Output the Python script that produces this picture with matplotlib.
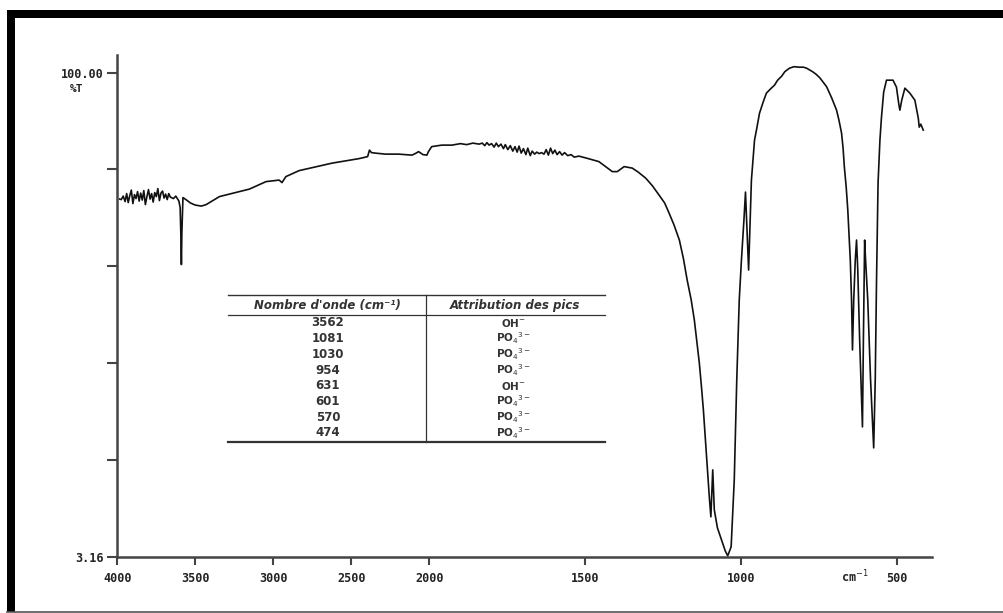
import numpy as np
import matplotlib
matplotlib.use('Agg')
import matplotlib.pyplot as plt
from matplotlib.lines import Line2D
from matplotlib.patches import Rectangle
from matplotlib.ticker import NullLocator

# Spectre IR : nombre d'onde (cm-1) et transmittance (%T)
wavenumber = [
    3985, 3975, 3962, 3950, 3940, 3930, 3920, 3910, 3900, 3890, 3880, 3870,
    3860, 3850, 3840, 3830, 3820, 3810, 3800, 3790, 3780, 3770, 3760, 3750,
    3740, 3730, 3720, 3710, 3700, 3690, 3680, 3670, 3660, 3640, 3625, 3605,
    3597, 3592, 3589, 3586, 3579, 3560, 3530, 3500, 3461, 3430, 3345, 3217,
    3153, 3046, 2962, 2944, 2919, 2834, 2622, 2450, 2408, 2395, 2383, 2370,
    2345, 2281, 2196, 2150, 2111, 2090, 2068, 2040, 2015, 2005, 1992, 1960,
    1927, 1900, 1880, 1860, 1840, 1830, 1822, 1815, 1808, 1800, 1792, 1785,
    1778, 1770, 1762, 1756, 1748, 1740, 1732, 1725, 1718, 1712, 1705, 1698,
    1690, 1684, 1676, 1670, 1662, 1655, 1648, 1640, 1632, 1625, 1618, 1611,
    1604, 1597, 1590, 1582, 1574, 1566, 1556, 1545, 1535, 1520, 1490, 1456,
    1430, 1413, 1397, 1375, 1349, 1330, 1306, 1285, 1263, 1245, 1231, 1215,
    1198, 1185, 1173, 1160, 1150, 1142, 1134, 1127, 1121, 1113, 1102, 1097,
    1091, 1086, 1076, 1063, 1051, 1043, 1038, 1032, 1028, 1022, 1018, 1014,
    1010, 1006, 999, 991, 986, 981, 976, 972, 967, 957, 950, 941,
    930, 919, 905, 893, 883, 870, 860, 845, 830, 813, 800, 790,
    771, 760, 748, 726, 710, 694, 686, 678, 673, 669, 663, 658,
    650, 646, 643, 639, 634, 630, 626, 620, 611, 608, 605, 604,
    601, 594, 585, 575, 570, 566, 561, 555, 550, 543, 534, 513,
    502, 494, 491, 485, 475, 459, 443, 432, 429, 424, 416,
]
transmittance = [
    74.7, 74.6, 75.3, 74.2, 75.8, 74.0, 75.4, 76.5, 73.8, 75.6, 74.8, 76.2,
    74.3, 75.9, 74.5, 76.4, 73.6, 75.2, 76.6, 74.7, 75.8, 74.1, 76.0, 75.2,
    76.8, 74.4, 75.9, 76.3, 74.9, 75.7, 74.6, 75.8, 75.1, 74.8, 75.3, 74.3,
    73.0, 67.0, 61.6, 68.0, 75.0, 74.6, 73.9, 73.5, 73.3, 73.6, 75.2, 76.2,
    76.7, 78.2, 78.5, 78.0, 79.2, 80.4, 81.9, 82.8, 83.1, 83.2, 84.5, 84.0,
    83.9, 83.7, 83.7, 83.6, 83.5, 83.8, 84.2, 83.6, 83.5, 84.2, 85.2, 85.5,
    85.5, 85.8, 85.6, 85.9, 85.7, 85.9, 85.4, 86.0, 85.5, 85.8, 85.1, 85.9,
    85.2, 85.7, 84.8, 85.6, 84.6, 85.4, 84.3, 85.2, 84.1, 85.3, 83.9, 84.8,
    83.6, 84.9, 83.4, 84.3, 83.7, 84.1, 83.8, 84.0, 83.7, 84.6, 83.5, 84.9,
    83.8, 84.5, 83.6, 84.2, 83.5, 84.0, 83.4, 83.6, 83.1, 83.3, 82.8, 82.2,
    81.0, 80.2, 80.2, 81.2, 80.9, 80.1, 78.9, 77.4, 75.5, 73.9, 71.9, 69.5,
    66.5, 62.8, 58.5, 54.5, 50.5, 46.2, 41.9, 37.0, 32.5, 25.1, 15.1, 11.1,
    20.5, 12.5, 8.9, 6.5, 4.3, 3.3, 4.1, 5.1, 10.5, 18.5, 28.5, 38.5,
    46.5, 54.5, 62.5, 70.5, 76.1, 68.5, 60.5, 68.5, 78.5, 86.5, 88.8, 91.9,
    94.0, 95.9, 96.8, 97.5, 98.5, 99.3, 100.2, 100.9, 101.2, 101.1, 101.1, 100.9,
    100.2, 99.7, 99.0, 97.2, 95.0, 92.5, 90.4, 87.9, 84.8, 81.1, 77.0, 72.5,
    62.5, 54.5, 44.5, 54.5, 62.5, 66.5, 60.5, 46.5, 29.1, 46.5, 60.5, 66.5,
    62.5, 54.5, 38.5, 24.9, 38.5, 57.9, 77.9, 86.5, 91.1, 96.1, 98.5, 98.5,
    97.1, 93.5, 92.5, 94.5, 96.9, 95.9, 94.5, 90.9, 89.1, 89.7, 88.5,
]

x_ticks = [4000, 3500, 3000, 2500, 2000, 1500, 1000, 500]
y_ticks = [3.16, 22.53, 41.90, 61.26, 80.63, 100.00]
y_ticklabels = ['3.16', '', '', '', '', '100.00']

# Tableau des attributions
table_wn = ['3562', '1081', '1030', '954', '631', '601', '570', '474']
table_attr = ['OH$^{-}$', 'PO$_4$$^{3-}$', 'PO$_4$$^{3-}$', 'PO$_4$$^{3-}$',
              'OH$^{-}$', 'PO$_4$$^{3-}$', 'PO$_4$$^{3-}$', 'PO$_4$$^{3-}$']

W, H = 1004, 613


def fx(px):
    return px / W


def fy(py):
    return 1 - py / H


# échelle x dilatée x2 en dessous de 2000 cm-1
def fwd(w):
    w = np.asarray(w, dtype=float)
    return np.where(w >= 2000, w, 2 * w - 2000)


def inv(v):
    v = np.asarray(v, dtype=float)
    return np.where(v >= 2000, v, (v + 2000) / 2)


fig = plt.figure(figsize=(W / 100, H / 100), dpi=100)
fig.patch.set_facecolor('white')

ax = fig.add_axes([fx(117.3), fy(556.5), fx(931.7) - fx(117.3), fy(55) - fy(556.5)])
ax.set_xscale('function', functions=(fwd, inv))
ax.plot(wavenumber, transmittance, color='#111111', lw=1.2)
ax.set_xlim(4000, 389)
ax.set_ylim(3.16, 103.54)

for side in ['top', 'right']:
    ax.spines[side].set_visible(False)
for side in ['left', 'bottom']:
    ax.spines[side].set_color('#444444')
    ax.spines[side].set_linewidth(1.8)

ax.set_xticks(x_ticks)
ax.set_xticklabels([str(t) for t in x_ticks])
ax.xaxis.set_minor_locator(NullLocator())
ax.set_yticks(y_ticks)
ax.set_yticklabels(y_ticklabels)
ax.yaxis.set_minor_locator(NullLocator())
ax.tick_params(axis='x', direction='out', length=6, width=1.5, color='#444444',
               pad=5, labelsize=8.5, labelcolor='#222222')
ax.tick_params(axis='y', direction='out', length=7, width=1.5, color='#444444',
               pad=3, labelsize=8.5, labelcolor='#222222')
for lbl in ax.get_xticklabels() + ax.get_yticklabels():
    lbl.set_fontfamily('DejaVu Sans Mono')
    lbl.set_fontweight('bold')

fig.text(fx(77), fy(89), '%T', ha='center', va='center', fontsize=8,
         family='DejaVu Sans Mono', weight='bold', color='#222222')
fig.text(fx(855), fy(577), 'cm$^{-1}$', ha='center', va='center', fontsize=8.5,
         family='DejaVu Sans Mono', weight='bold', color='#222222')

# tableau
tcol = '#333333'
fig.add_artist(Line2D([fx(228), fx(605)], [fy(295), fy(295)], transform=fig.transFigure,
                      color=tcol, lw=1.0))
fig.add_artist(Line2D([fx(228), fx(605)], [fy(315), fy(315)], transform=fig.transFigure,
                      color=tcol, lw=0.9))
fig.add_artist(Line2D([fx(228), fx(605)], [fy(441.5), fy(441.5)], transform=fig.transFigure,
                      color=tcol, lw=1.6))
fig.add_artist(Line2D([fx(425.7), fx(425.7)], [fy(295), fy(441.5)], transform=fig.transFigure,
                      color=tcol, lw=0.9))

fig.text(fx(327), fy(306), "Nombre d'onde (cm⁻¹)", ha='center', va='center', fontsize=8.5,
         family='DejaVu Sans', weight='bold', style='italic', color=tcol)
fig.text(fx(515), fy(306), 'Attribution des pics', ha='center', va='center', fontsize=8.5,
         family='DejaVu Sans', weight='bold', style='italic', color=tcol)

for i, (wn, attr) in enumerate(zip(table_wn, table_attr)):
    y = 323 + i * 15.7
    fig.text(fx(328), fy(y), wn, ha='center', va='center', fontsize=8.5,
             family='DejaVu Sans', weight='bold', color=tcol)
    fig.text(fx(513), fy(y), attr, ha='center', va='center', fontsize=7.5,
             family='DejaVu Sans', weight='bold', color=tcol)

# cadre noir
fig.add_artist(Rectangle((fx(7), fy(17.5)), (1004 - 7) / W, 7.5 / H,
                         transform=fig.transFigure, color='black', lw=0))
fig.add_artist(Rectangle((fx(7), fy(612)), 8 / W, (612 - 10) / H,
                         transform=fig.transFigure, color='black', lw=0))
fig.add_artist(Line2D([fx(7), fx(1004)], [fy(611.5), fy(611.5)], transform=fig.transFigure,
                      color='#555555', lw=1.2))

fig.savefig('out.png', dpi=100)
plt.close(fig)
